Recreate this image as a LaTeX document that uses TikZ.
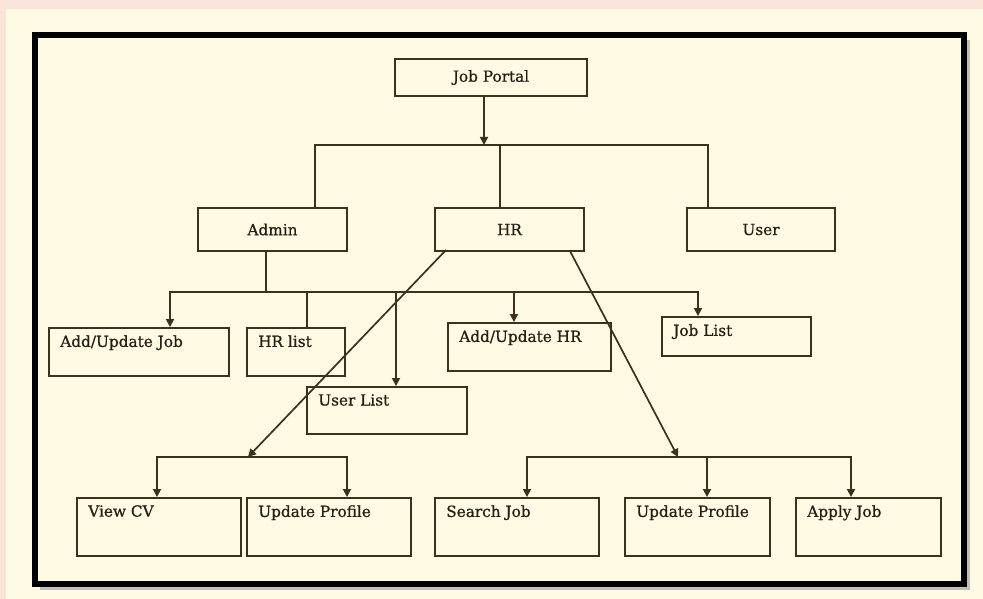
\documentclass[tikz,border=0pt]{standalone}
\usepackage{fontspec}
\setmainfont{DejaVu Serif}
\newfontfamily\boxfont[FakeBold=0.7]{DejaVu Serif}
\usetikzlibrary{arrows.meta}
\definecolor{pinkbg}{RGB}{251,228,218}
\definecolor{creambg}{RGB}{254,250,228}
\definecolor{linec}{RGB}{58,50,28}
\definecolor{textc}{RGB}{36,30,20}
\tikzset{
  box/.style={draw=linec, line width=1.9pt, fill=creambg, inner sep=0pt, minimum width=#1},
  boxtext/.style={font=\boxfont\fontsize{15.3}{17}\selectfont, text=textc},
  lt/.style={label={[anchor=north west, inner sep=0pt, xshift=12pt, yshift=-8pt, boxtext]north west:#1}},
  conn/.style={draw=linec, line width=1.7pt},
  arr/.style={conn, -{Triangle[width=8pt,length=8pt]}},
}
\begin{document}
\begin{tikzpicture}[x=1pt,y=-1pt]
\useasboundingbox (0,0) rectangle (983,599);
\fill[pinkbg] (0,0) rectangle (983,599);
\fill[creambg] (6,9) rectangle (983,599);
% frame with soft shadow on right and bottom
\draw[line width=4pt, black!40, opacity=0.6] (40,588) -- (968,588) -- (968,40);
\draw[line width=5.5pt, black] (35,35) rectangle (964,584);

% top level
\node[box=192pt, minimum height=37pt, boxtext] (jp) at (491,77.5) {Job Portal};
\node[box=149pt, minimum height=43pt, boxtext] (admin) at (272.5,229.5) {Admin};
\node[box=149pt, minimum height=43pt, boxtext] (hr) at (509.5,229.5) {HR};
\node[box=148pt, minimum height=43pt, boxtext] (user) at (761,229.5) {User};

% middle level
\node[box=180pt, minimum height=48pt, lt={Add/Update Job}] (auj) at (139,352) {};
\node[box=98pt, minimum height=48pt, lt={HR list}] (hrl) at (296,352) {};
\node[box=160pt, minimum height=47pt, lt={User List}] (ul) at (387,410.5) {};
\node[box=163pt, minimum height=48pt, lt={Add/Update HR}] (auhr) at (529.5,347) {};
\node[box=149pt, minimum height=39pt, lt={Job List}] (jl) at (736.5,336.5) {};

% bottom level
\node[box=164pt, minimum height=58pt, lt={View CV}] (vcv) at (159,527) {};
\node[box=164pt, minimum height=58pt, lt={Update Profile}] (up1) at (329,527) {};
\node[box=164pt, minimum height=58pt, lt={Search Job}] (sj) at (517,527) {};
\node[box=145pt, minimum height=58pt, lt={Update Profile}] (up2) at (697.5,527) {};
\node[box=145pt, minimum height=58pt, lt={Apply Job}] (aj) at (868.5,527) {};

% junctions
\coordinate (j1) at (484,145);
\coordinate (j2) at (266,292);
\coordinate (j3) at (248,457);
\coordinate (j4) at (678,457);

% job portal -> level 1
\draw[arr] ([xshift=-7pt]jp.south) -- (j1);
\draw[conn] ([xshift=42.5pt]admin.north) |- (j1) -| ([xshift=-53pt]user.north);
\draw[conn] ([xshift=-9.5pt]hr.north) -- ([xshift=-9.5pt]hr.north |- j1);

% admin -> children
\draw[conn] ([xshift=-6.5pt]admin.south) -- (j2);
\draw[arr] (j2) -| ([xshift=31pt]auj.north);
\draw[conn] (j2) -| ([xshift=11pt]hrl.north);
\draw[arr] (j2) -| ([xshift=9pt]ul.north);
\draw[arr] (j2) -| ([xshift=-15.5pt]auhr.north);
\draw[arr] (j2) -| ([xshift=-38.5pt]jl.north);

% hr -> view cv / update profile
\draw[arr] ([xshift=12pt,yshift=2pt]hr.south west) -- (j3);
\draw[arr] (j3) -| ([xshift=-2pt]vcv.north);
\draw[arr] (j3) -| ([xshift=18pt]up1.north);

% hr -> user functions
\draw[arr] ([xshift=-15pt,yshift=1pt]hr.south east) -- (j4);
\draw[arr] (j4) -| ([xshift=10pt]sj.north);
\draw[arr] (j4) -| ([xshift=9.5pt]up2.north);
\draw[arr] (j4) -| ([xshift=-17.5pt]aj.north);
\end{tikzpicture}
\end{document}
